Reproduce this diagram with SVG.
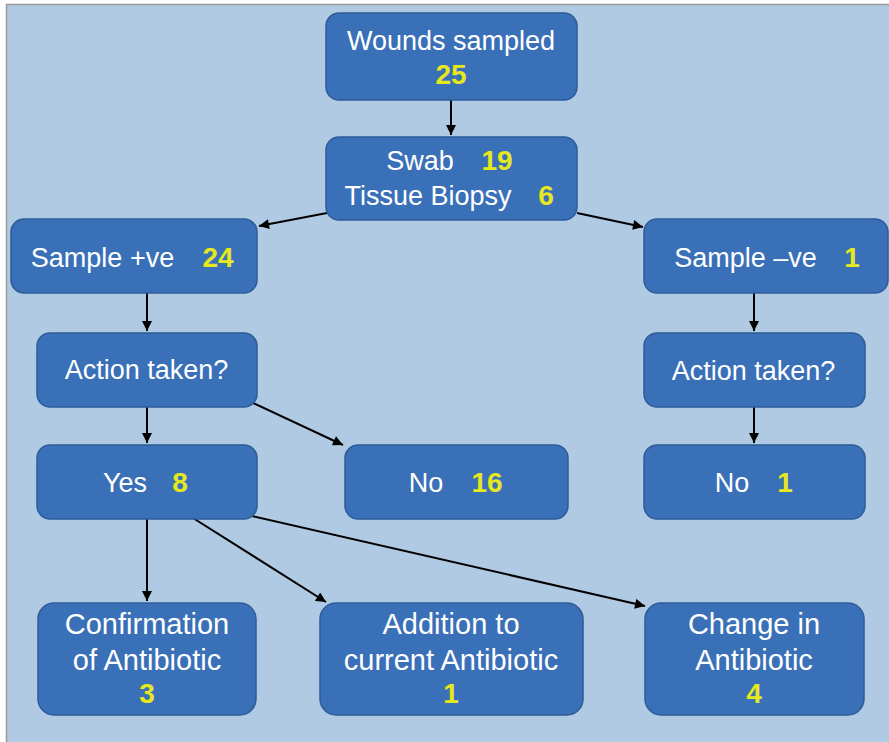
<svg xmlns="http://www.w3.org/2000/svg" width="889" height="742" viewBox="0 0 889 742">
<style>
.bx{fill:#3a70b8;stroke:#2d5c98;stroke-width:1.5}
.t{font-family:"Liberation Sans",Arial,sans-serif;font-size:27px;fill:#ffffff;text-anchor:middle}
.tb{font-family:"Liberation Sans",Arial,sans-serif;font-size:29px;fill:#ffffff;text-anchor:middle}
.n{font-family:"Liberation Sans",Arial,sans-serif;font-size:28px;font-weight:bold;fill:#e6e81e;text-anchor:middle}
.c{fill:none;stroke:#000;stroke-width:2}
</style>
<defs>
<marker id="ah" viewBox="0 0 10 10" refX="10" refY="5" markerWidth="11" markerHeight="10" markerUnits="userSpaceOnUse" orient="auto">
<path d="M0,0 L10,5 L0,10 z" fill="#000"/>
</marker>
</defs>
<rect x="0" y="0" width="889" height="742" fill="#ffffff"/>
<rect x="6.5" y="4.5" width="890" height="745" fill="#afcae2" stroke="#9a9a9a" stroke-width="1.5"/>
<g id="connectors">
<line class="c" x1="451" y1="100" x2="451" y2="135" marker-end="url(#ah)"/>
<line class="c" x1="327" y1="213" x2="259" y2="226" marker-end="url(#ah)"/>
<line class="c" x1="577" y1="213" x2="643" y2="227" marker-end="url(#ah)"/>
<line class="c" x1="147" y1="293" x2="147" y2="331" marker-end="url(#ah)"/>
<line class="c" x1="147" y1="407" x2="147" y2="443" marker-end="url(#ah)"/>
<line class="c" x1="253" y1="403" x2="343" y2="445" marker-end="url(#ah)"/>
<line class="c" x1="754" y1="293" x2="754" y2="331" marker-end="url(#ah)"/>
<line class="c" x1="754" y1="407" x2="754" y2="443" marker-end="url(#ah)"/>
<line class="c" x1="147" y1="519" x2="147" y2="601" marker-end="url(#ah)"/>
<line class="c" x1="193" y1="518" x2="326" y2="602" marker-end="url(#ah)"/>
<line class="c" x1="252" y1="516" x2="645" y2="606" marker-end="url(#ah)"/>
</g>
<g id="wounds">
<rect class="bx" x="326" y="13" width="251" height="87" rx="13"/>
<text class="t" x="451" y="49.5">Wounds sampled</text>
<text class="n" x="451" y="84">25</text>
</g>
<g id="swab">
<rect class="bx" x="326" y="137" width="251" height="83" rx="13"/>
<text class="t" x="420" y="170">Swab</text>
<text class="n" x="497" y="170">19</text>
<text class="t" x="428" y="205">Tissue Biopsy</text>
<text class="n" x="546" y="205">6</text>
</g>
<g id="samplepos">
<rect class="bx" x="11" y="219" width="246" height="74" rx="13"/>
<text class="t" x="102.5" y="267">Sample +ve</text>
<text class="n" x="218" y="267">24</text>
</g>
<g id="sampleneg">
<rect class="bx" x="644" y="219" width="244" height="74" rx="13"/>
<text class="t" x="745.5" y="267">Sample –ve</text>
<text class="n" x="852" y="267">1</text>
</g>
<g id="action-left">
<rect class="bx" x="37" y="333" width="220" height="74" rx="13"/>
<text class="t" x="146.5" y="379">Action taken?</text>
</g>
<g id="action-right">
<rect class="bx" x="644" y="333" width="221" height="74" rx="13"/>
<text class="t" x="753.5" y="380">Action taken?</text>
</g>
<g id="yes">
<rect class="bx" x="37" y="445" width="220" height="74" rx="13"/>
<text class="t" x="125" y="492">Yes</text>
<text class="n" x="180" y="492">8</text>
</g>
<g id="no-left">
<rect class="bx" x="345" y="445" width="223" height="74" rx="13"/>
<text class="t" x="426" y="492">No</text>
<text class="n" x="487" y="492">16</text>
</g>
<g id="no-right">
<rect class="bx" x="644" y="445" width="221" height="74" rx="13"/>
<text class="t" x="732" y="492">No</text>
<text class="n" x="785" y="492">1</text>
</g>
<g id="confirmation">
<rect class="bx" x="38" y="603" width="218" height="112" rx="16"/>
<text class="tb" x="147" y="634">Confirmation</text>
<text class="tb" x="147" y="670">of Antibiotic</text>
<text class="n" x="147" y="703">3</text>
</g>
<g id="addition">
<rect class="bx" x="320" y="603" width="263" height="112" rx="16"/>
<text class="tb" x="451" y="634">Addition to</text>
<text class="tb" x="451" y="670">current Antibiotic</text>
<text class="n" x="451" y="703">1</text>
</g>
<g id="change">
<rect class="bx" x="645" y="603" width="219" height="112" rx="16"/>
<text class="tb" x="754" y="634">Change in</text>
<text class="tb" x="754" y="670">Antibiotic</text>
<text class="n" x="754" y="703">4</text>
</g>
</svg>
